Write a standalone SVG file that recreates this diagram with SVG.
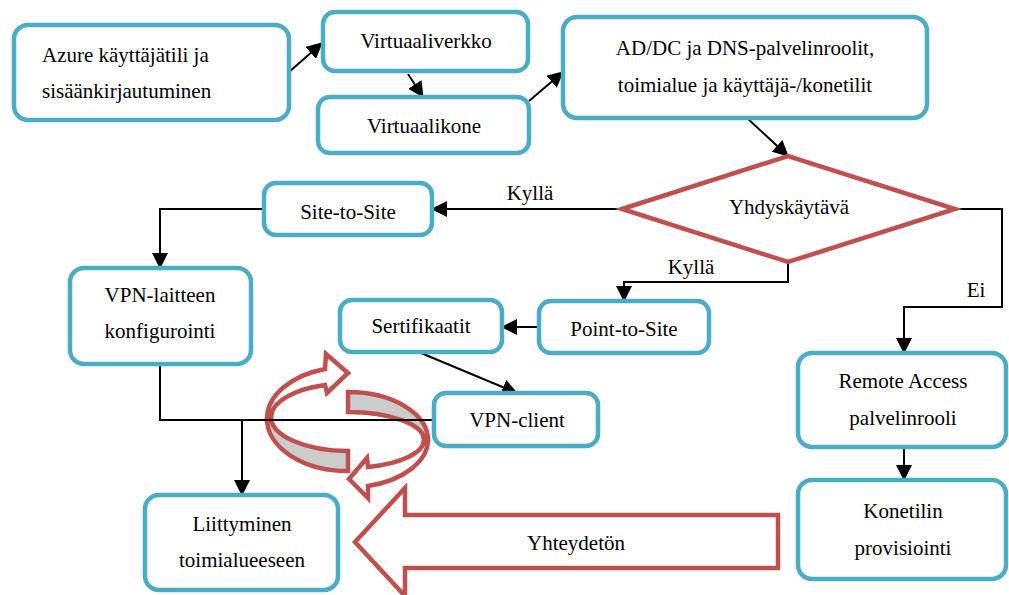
<svg xmlns="http://www.w3.org/2000/svg" width="1009" height="595" viewBox="0 0 1009 595">
<style>
text{font-family:"Liberation Serif","Times New Roman",serif;font-size:21px;fill:#000}
.c{text-anchor:middle}
.box{fill:#fff;stroke:#4BACC6;stroke-width:4.5}
.red{fill:#fff;stroke:#C0504D;stroke-width:4.5;stroke-linejoin:miter}
.gray{fill:#CCCCCC;stroke:#C0504D;stroke-width:4.5}
.ln{fill:none;stroke:#000;stroke-width:2}
.arr{marker-end:url(#ah)}
</style>
<defs>
<marker id="ah" markerUnits="userSpaceOnUse" viewBox="0 0 16 16" markerWidth="16" markerHeight="16" refX="15" refY="8" orient="auto">
<path d="M0,0 L16,8 L0,16 Z" fill="#000"/>
</marker>
</defs>
<rect width="1009" height="595" fill="#fff"/>

<g id="cycle-arrows">
<path class="gray" d="M271,417 A77,34 0 0 0 348,451 L348,471 A81,52 0 0 1 267,419 Z"/>
<path class="red" d="M267,419 A81,52 0 0 1 325,369 L326,354 L348,373 L327,393 L325,385 A77,34 0 0 0 271,417 Z"/>
<path class="gray" d="M348,392 A80,48 0 0 1 428,440 L424,440 A76,28 0 0 0 348,412 Z"/>
<path class="red" d="M428,440 A80,48 0 0 1 368,486 L368,498 L349,479 L367,458 L368,467 A76,28 0 0 0 424,440 Z"/>
</g>

<g id="offline-arrow">
<polygon class="red" points="355,542 405,488 405,515 778,515 778,568 405,568 405,596"/>
<text class="c" x="576" y="550">Yhteydetön</text>
</g>

<g id="connectors">
<path class="ln arr" d="M289,72 L322,43"/>
<path class="ln arr" d="M408,74 L423,97"/>
<path class="ln arr" d="M529,101 L563,72"/>
<path class="ln arr" d="M747,118 L788,156"/>
<path class="ln arr" d="M622,209 L432,209"/>
<path class="ln arr" d="M264,209 L160,209 L160,268"/>
<path class="ln arr" d="M788,262 L788,282 L624,282 L624,301"/>
<path class="ln arr" d="M955,209 L1002,209 L1002,307 L904,307 L904,353"/>
<path class="ln arr" d="M539,327 L502,327"/>
<path class="ln arr" d="M421,353 L517,393"/>
<path class="ln" d="M160,364 L160,420 L434,420"/>
<path class="ln arr" d="M242,420 L242,495"/>
<path class="ln arr" d="M904,447 L904,480"/>
<text class="c" x="530" y="200">Kyllä</text>
<text class="c" x="691" y="274">Kyllä</text>
<text class="c" x="976" y="297">Ei</text>
</g>

<g id="azure">
<rect class="box" x="14" y="25" width="275" height="95" rx="14"/>
<text x="42" y="62">Azure käyttäjätili ja</text>
<text x="42" y="98">sisäänkirjautuminen</text>
</g>
<g id="virtuaaliverkko">
<rect class="box" x="323" y="12" width="205" height="59" rx="12"/>
<text class="c" x="426" y="48">Virtuaaliverkko</text>
</g>
<g id="virtuaalikone">
<rect class="box" x="318" y="97" width="211" height="56" rx="12"/>
<text class="c" x="424" y="133">Virtuaalikone</text>
</g>
<g id="addc">
<rect class="box" x="563" y="17" width="364" height="101" rx="14"/>
<text class="c" x="745" y="55">AD/DC ja DNS-palvelinroolit,</text>
<text class="c" x="745" y="92">toimialue ja käyttäjä-/konetilit</text>
</g>
<g id="yhdyskaytava">
<polygon class="red" points="622,209 788,156 955,209 788,262"/>
<text class="c" x="789" y="214">Yhdyskäytävä</text>
</g>
<g id="site-to-site">
<rect class="box" x="264" y="183" width="168" height="52" rx="12"/>
<text class="c" x="348" y="219">Site-to-Site</text>
</g>
<g id="vpn-laite">
<rect class="box" x="70" y="268" width="181" height="96" rx="14"/>
<text class="c" x="160" y="302">VPN-laitteen</text>
<text class="c" x="160" y="338">konfigurointi</text>
</g>
<g id="sertifikaatit">
<rect class="box" x="340" y="300" width="162" height="52" rx="12"/>
<text class="c" x="421" y="333">Sertifikaatit</text>
</g>
<g id="point-to-site">
<rect class="box" x="539" y="301" width="170" height="52" rx="12"/>
<text class="c" x="624" y="336">Point-to-Site</text>
</g>
<g id="vpn-client">
<rect class="box" x="434" y="393" width="164" height="53" rx="12"/>
<text class="c" x="517" y="427">VPN-client</text>
</g>
<g id="remote-access">
<rect class="box" x="798" y="353" width="208" height="94" rx="14"/>
<text class="c" x="903" y="388">Remote Access</text>
<text class="c" x="903" y="425">palvelinrooli</text>
</g>
<g id="konetili">
<rect class="box" x="798" y="480" width="208" height="99" rx="14"/>
<text class="c" x="903" y="518">Konetilin</text>
<text class="c" x="903" y="555">provisiointi</text>
</g>
<g id="liittyminen">
<rect class="box" x="145" y="495" width="193" height="95" rx="14"/>
<text class="c" x="242" y="531">Liittyminen</text>
<text class="c" x="242" y="567">toimialueeseen</text>
</g>
</svg>
